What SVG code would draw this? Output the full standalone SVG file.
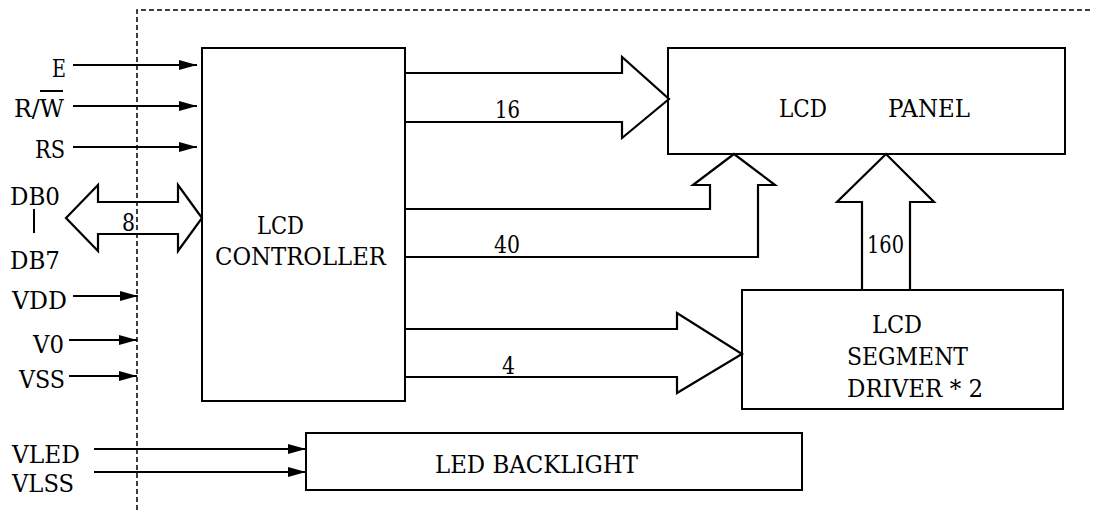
<svg xmlns="http://www.w3.org/2000/svg" width="1093" height="510" viewBox="0 0 1093 510">
<defs>
<marker id="ah" markerUnits="userSpaceOnUse" markerWidth="18" markerHeight="10" refX="18" refY="5" orient="auto">
<path d="M0,0 L18,5 L0,10 z" fill="#000"/>
</marker>
<style>
text{font-family:'DejaVu Serif',serif;font-size:24px;fill:#000}
.box{fill:#fff;stroke:#000;stroke-width:2}
.sig{stroke:#000;stroke-width:2;fill:none;marker-end:url(#ah)}
.bus{fill:none;stroke:#000;stroke-width:2.2;stroke-linejoin:miter}
.dash{fill:none;stroke:#000;stroke-width:1.5;stroke-dasharray:5,3}
</style>
</defs>
<rect width="1093" height="510" fill="#fff"/>
<path class="dash" d="M137,510 V10 H1093"/>

<g id="controller">
<rect class="box" x="202" y="48" width="203" height="353"/>
<text x="257" y="234" textLength="47" lengthAdjust="spacingAndGlyphs">LCD</text>
<text x="215" y="265" textLength="171" lengthAdjust="spacingAndGlyphs">CONTROLLER</text>
</g>
<g id="panel">
<rect class="box" x="668" y="48" width="397" height="106"/>
<text x="779" y="117" textLength="48" lengthAdjust="spacingAndGlyphs">LCD</text>
<text x="888" y="117" textLength="82" lengthAdjust="spacingAndGlyphs">PANEL</text>
</g>
<g id="driver">
<rect class="box" x="742" y="290" width="321" height="119"/>
<text x="872" y="333" textLength="50" lengthAdjust="spacingAndGlyphs">LCD</text>
<text x="847" y="365" textLength="121" lengthAdjust="spacingAndGlyphs">SEGMENT</text>
<text x="847" y="397" textLength="136" lengthAdjust="spacingAndGlyphs">DRIVER * 2</text>
</g>
<g id="backlight">
<rect class="box" x="306" y="433" width="496" height="57"/>
<text x="435" y="473" textLength="203" lengthAdjust="spacingAndGlyphs">LED BACKLIGHT</text>
</g>

<g id="labels">
<text x="52" y="77" textLength="14" lengthAdjust="spacingAndGlyphs">E</text>
<text x="14" y="117" textLength="50" lengthAdjust="spacingAndGlyphs">R/W</text>
<line x1="40" y1="91" x2="63" y2="91" stroke="#000" stroke-width="2"/>
<text x="35" y="158" textLength="30" lengthAdjust="spacingAndGlyphs">RS</text>
<text x="10" y="205" textLength="50" lengthAdjust="spacingAndGlyphs">DB0</text>
<line x1="34" y1="209" x2="34" y2="233" stroke="#000" stroke-width="2"/>
<text x="10" y="269" textLength="50" lengthAdjust="spacingAndGlyphs">DB7</text>
<text x="12" y="309" textLength="55" lengthAdjust="spacingAndGlyphs">VDD</text>
<text x="33" y="353" textLength="31" lengthAdjust="spacingAndGlyphs">V0</text>
<text x="19" y="388" textLength="46" lengthAdjust="spacingAndGlyphs">VSS</text>
<text x="12" y="463" textLength="68" lengthAdjust="spacingAndGlyphs">VLED</text>
<text x="12" y="492" textLength="62" lengthAdjust="spacingAndGlyphs">VLSS</text>
</g>

<g id="connectors">
<line class="sig" x1="73" y1="65" x2="197" y2="65"/>
<line class="sig" x1="73" y1="106" x2="197" y2="106"/>
<line class="sig" x1="73" y1="147" x2="197" y2="147"/>
<line class="sig" x1="73" y1="296" x2="138" y2="296"/>
<line class="sig" x1="69" y1="340" x2="137" y2="340"/>
<line class="sig" x1="69" y1="376" x2="137" y2="376"/>
<line class="sig" x1="94" y1="449" x2="306" y2="449"/>
<line class="sig" x1="94" y1="472" x2="306" y2="472"/>
<polygon class="bus" fill="#fff" points="66,218 98,185 98,202 178,202 178,185 202,218 178,251 178,234 98,234 98,251"/>
<text x="122" y="231" textLength="13" lengthAdjust="spacingAndGlyphs">8</text>
<path class="bus" d="M405,73 H622 V57 L669,99 L622,138 V122 H405"/>
<text x="495" y="118" textLength="25" lengthAdjust="spacingAndGlyphs">16</text>
<path class="bus" d="M405,209 H710 V185 H693 L734,154 L775,185 H758 V257 H405"/>
<text x="494" y="253" textLength="26" lengthAdjust="spacingAndGlyphs">40</text>
<path class="bus" d="M405,329 H677 V313 L742,354 L677,393 V377 H405"/>
<text x="502" y="374" textLength="13" lengthAdjust="spacingAndGlyphs">4</text>
<path class="bus" d="M862,290 V202 H837 L886,154 L934,202 H910 V290"/>
<text x="867" y="253" textLength="37" lengthAdjust="spacingAndGlyphs">160</text>
</g>
</svg>
